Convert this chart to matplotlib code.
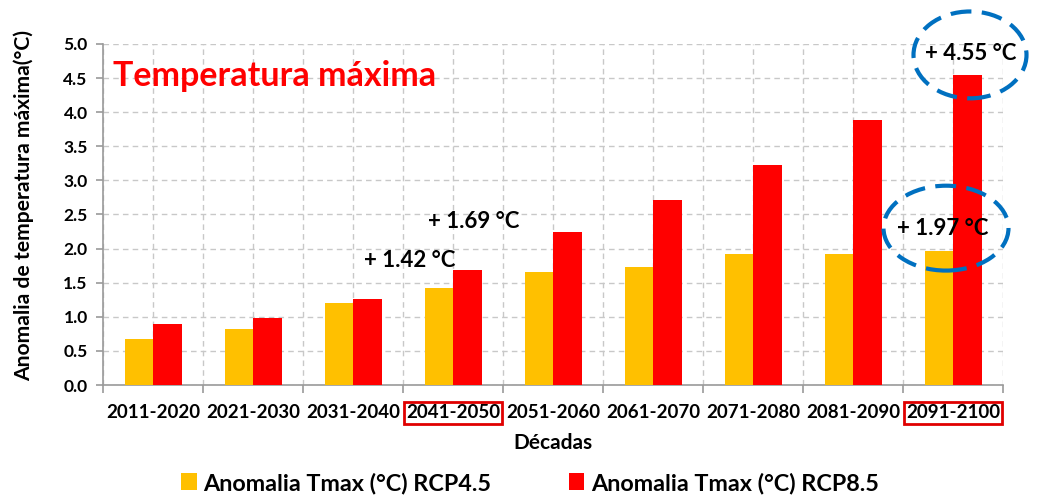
import matplotlib
matplotlib.use("Agg")
import matplotlib.pyplot as plt
import numpy as np
from matplotlib.patches import Ellipse, Patch
from matplotlib.ticker import MultipleLocator, FixedLocator

plt.rcParams['font.family'] = ['Lato', 'DejaVu Sans']
plt.rcParams['font.weight'] = 'bold'
plt.rcParams['axes.labelweight'] = 'bold'

decades = ["2011-2020", "2021-2030", "2031-2040", "2041-2050", "2051-2060",
           "2061-2070", "2071-2080", "2081-2090", "2091-2100"]
rcp45 = [0.67, 0.82, 1.20, 1.42, 1.65, 1.73, 1.92, 1.92, 1.97]
rcp85 = [0.89, 0.98, 1.26, 1.69, 2.25, 2.71, 3.23, 3.89, 4.55]
label45 = "Anomalia Tmax (°C) RCP4.5"
label85 = "Anomalia Tmax (°C) RCP8.5"
title = "Temperatura máxima"
ylabel = "Anomalia de temperatura máxima(°C)"
xlabel = "Décadas"
highlight = ["2041-2050", "2091-2100"]

c45 = "#FFC000"
c85 = "#FF0000"
blue = "#0070C0"

fig = plt.figure(figsize=(10.39, 4.97), dpi=100)
ax = fig.add_axes([103/1039, 1-385/497, 900/1039, 341/497])

x = np.arange(len(decades))
w = 0.285
ax.bar(x - w/2, rcp45, w, color=c45, zorder=3)
ax.bar(x + w/2, rcp85, w, color=c85, zorder=3)

ax.set_xlim(-0.5, len(decades) - 0.5)
ax.set_ylim(0, 5.0)
ax.yaxis.set_major_locator(MultipleLocator(0.5))
ax.yaxis.set_major_formatter(matplotlib.ticker.FormatStrFormatter('%.1f'))
ax.set_xticks(x)
ax.set_xticklabels(decades)
ax.xaxis.set_minor_locator(FixedLocator(np.arange(-0.5, len(decades), 1.0)))

ax.grid(True, which='both', axis='x', linestyle=(0, (4, 3)), color='#C8C8C8', lw=1, zorder=0)
ax.grid(True, which='major', axis='y', linestyle=(0, (4, 3)), color='#C8C8C8', lw=1, zorder=0)

for s in ['top', 'right']:
    ax.spines[s].set_visible(False)
for s in ['left', 'bottom']:
    ax.spines[s].set_color('#9A9A9A')
    ax.spines[s].set_linewidth(1.2)

ax.tick_params(axis='x', which='major', length=0, pad=14, labelsize=13.5)
ax.tick_params(axis='x', which='minor', length=6, color='#9A9A9A', width=1.2)
ax.tick_params(axis='y', length=5, color='#9A9A9A', width=1.2, labelsize=12.5, pad=6)

for lbl in ax.get_xticklabels():
    if lbl.get_text() in highlight:
        lbl.set_bbox(dict(facecolor='none', edgecolor='#E00000', linewidth=2, pad=1.5))

ax.set_xlabel(xlabel, fontsize=15, labelpad=8, fontweight='bold')
ax.set_ylabel(ylabel, fontsize=15.2, fontweight='bold')
ax.yaxis.set_label_coords(-69/900, 0.525)

ax.text(0.011, 0.905, title, transform=ax.transAxes, color='#FF0000',
        fontsize=24.5, fontweight='bold', va='center', ha='left')

# annotations
afs = 16
ax.text(3 - w/2 - 0.29, rcp45[3] + 0.41, f"+ {rcp45[3]:.2f} °C", fontsize=afs, ha='center', va='center', zorder=5)
ax.text(3 + w/2 + 0.06, rcp85[3] + 0.71, f"+ {rcp85[3]:.2f} °C", fontsize=afs, ha='center', va='center', zorder=5)
ax.text(8 - 0.10, rcp45[8] + 0.33, f"+ {rcp45[8]:.2f} °C", fontsize=afs, ha='center', va='center', zorder=5)
ax.text(8 + 0.18, rcp85[8] + 0.31, f"+ {rcp85[8]:.2f} °C", fontsize=afs, ha='center', va='center', zorder=5)

ax.add_patch(Ellipse((8 - 0.07, rcp45[8] + 0.33), 1.25, 85/68.3, fill=False,
                     edgecolor=blue, lw=3, linestyle=(0, (5, 2.5)), clip_on=False, zorder=6))
ax.add_patch(Ellipse((8 + 0.17, rcp85[8] + 0.29), 1.13, 87/68.3, fill=False,
                     edgecolor=blue, lw=3, linestyle=(0, (5, 2.5)), clip_on=False, zorder=6))

handles = [Patch(facecolor=c45, edgecolor='none', label=label45),
           Patch(facecolor=c85, edgecolor='none', label=label85)]
fig.legend(handles=handles, loc='center', bbox_to_anchor=(530/1039, 1-483/497), ncol=2,
           frameon=False, fontsize=16.8, handlelength=0.65, handleheight=0.75,
           handletextpad=0.3, columnspacing=3.3)

fig.savefig("out.png", dpi=100)
